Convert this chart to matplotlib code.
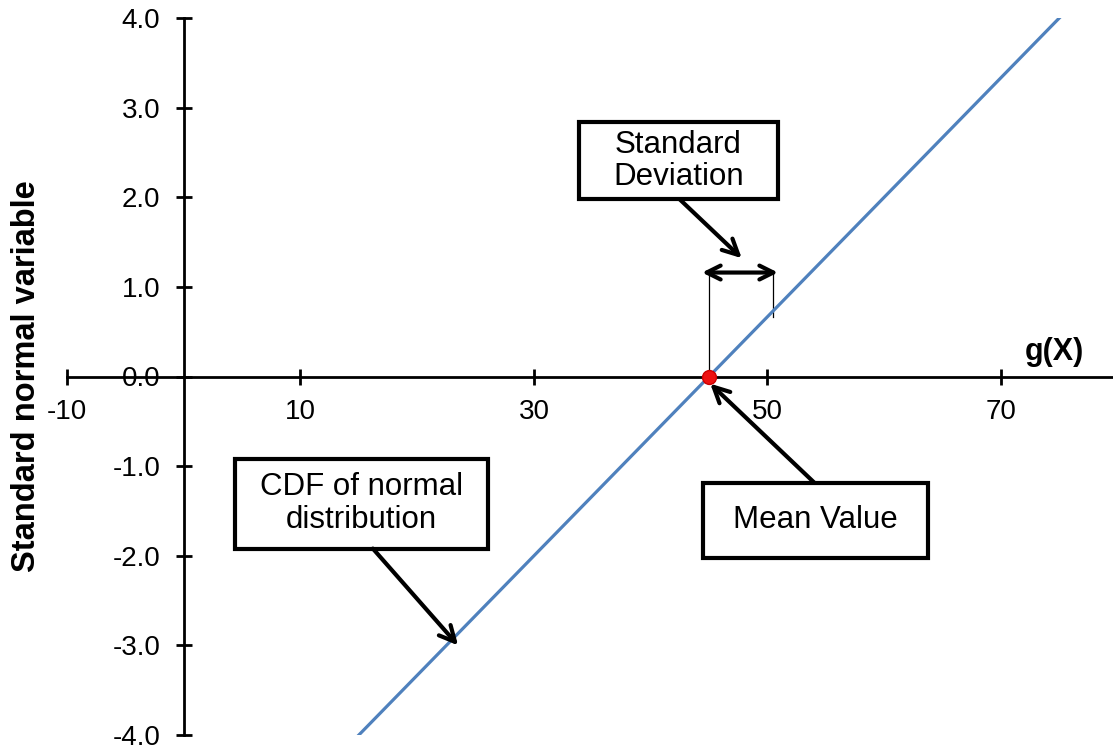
"""
Standard normal variable vs g(X): CDF of a normal distribution on probability paper
"""
import matplotlib
matplotlib.use('Agg')
import matplotlib.pyplot as plt
from matplotlib.patches import Rectangle

plt.rcParams['font.family'] = ['Liberation Sans', 'DejaVu Sans']

# CDF line (straight on normal probability scale)
g_vals = [15, 75]
z_vals = [-4.0, 4.0]
mean_g, mean_z = 45, 0.0

x_ticks = [-10, 10, 30, 50, 70]
y_ticks = [-4.0, -3.0, -2.0, -1.0, 0.0, 1.0, 2.0, 3.0, 4.0]

fig = plt.figure(figsize=(11.13, 7.5), dpi=100)
ax = fig.add_axes([67 / 1113, 15 / 750, 1046 / 1113, 717 / 750])
ax.set_xlim(-10, 79.6)
ax.set_ylim(-4, 4)

for s in ('top', 'right'):
    ax.spines[s].set_visible(False)
ax.spines['left'].set_position(('data', 0))
ax.spines['bottom'].set_position(('data', 0))
for s in ('left', 'bottom'):
    ax.spines[s].set_linewidth(2.0)
    ax.spines[s].set_zorder(1)

ax.set_xticks(x_ticks)
ax.set_xticklabels([f'{v:d}' for v in x_ticks])
ax.set_yticks(y_ticks)
ax.set_yticklabels([f'{v:.1f}' for v in y_ticks])
ax.tick_params(axis='both', direction='inout', length=12, width=2.0,
               labelsize=20, colors='black')
ax.tick_params(axis='y', pad=11)
ax.tick_params(axis='x', pad=10)
for t in ax.get_xticklines() + ax.get_yticklines():
    t.set_clip_on(False)

ax.plot(g_vals, z_vals, color='#4f81bd', lw=2.3, zorder=3)
ax.plot([mean_g], [mean_z], 'o', ms=10, color='#ee1111',
        mec='#cc0000', zorder=5, clip_on=False)

fig.text(27 / 1113, 0.499, 'Standard normal variable', rotation=90,
         ha='center', va='center', fontsize=23.5, fontweight='bold')
ax.text(74.6, 0.27, 'g(X)', ha='center', va='center',
        fontsize=22, fontweight='bold')

# std bracket
ax.plot([44.97, 44.97], [0, 1.16], color='black', lw=0.9, zorder=2)
ax.plot([50.45, 50.45], [0.66, 1.16], color='black', lw=0.9, zorder=2)
ax.annotate('', xy=(44.4, 1.16), xytext=(50.9, 1.16),
            arrowprops=dict(arrowstyle='<->', lw=3, color='black',
                            mutation_scale=25, shrinkA=0, shrinkB=0))


def box(x0, x1, y0, y1, text):
    ax.add_patch(Rectangle((x0, y0), x1 - x0, y1 - y0, facecolor='white',
                           edgecolor='black', lw=3, zorder=6))
    ax.text((x0 + x1) / 2, (y0 + y1) / 2, text, ha='center', va='center',
            fontsize=22.5, linespacing=1.12, zorder=7)


arrow = dict(arrowstyle='->', lw=3, color='black', mutation_scale=28,
             shrinkA=0, shrinkB=0)

box(33.84, 50.87, 1.975, 2.835, 'Standard\nDeviation')
ax.annotate('', xy=(47.8, 1.32), xytext=(42.5, 1.975), arrowprops=arrow,
            zorder=6)

box(44.45, 63.72, -2.02, -1.183, 'Mean Value')
ax.annotate('', xy=(45.1, -0.08), xytext=(54.0, -1.183), arrowprops=arrow,
            zorder=6)

box(4.38, 26.04, -1.92, -0.915, 'CDF of normal\ndistribution')
ax.annotate('', xy=(23.5, -3.0), xytext=(16.2, -1.92), arrowprops=arrow,
            zorder=6)

fig.savefig('out.png', dpi=100)
